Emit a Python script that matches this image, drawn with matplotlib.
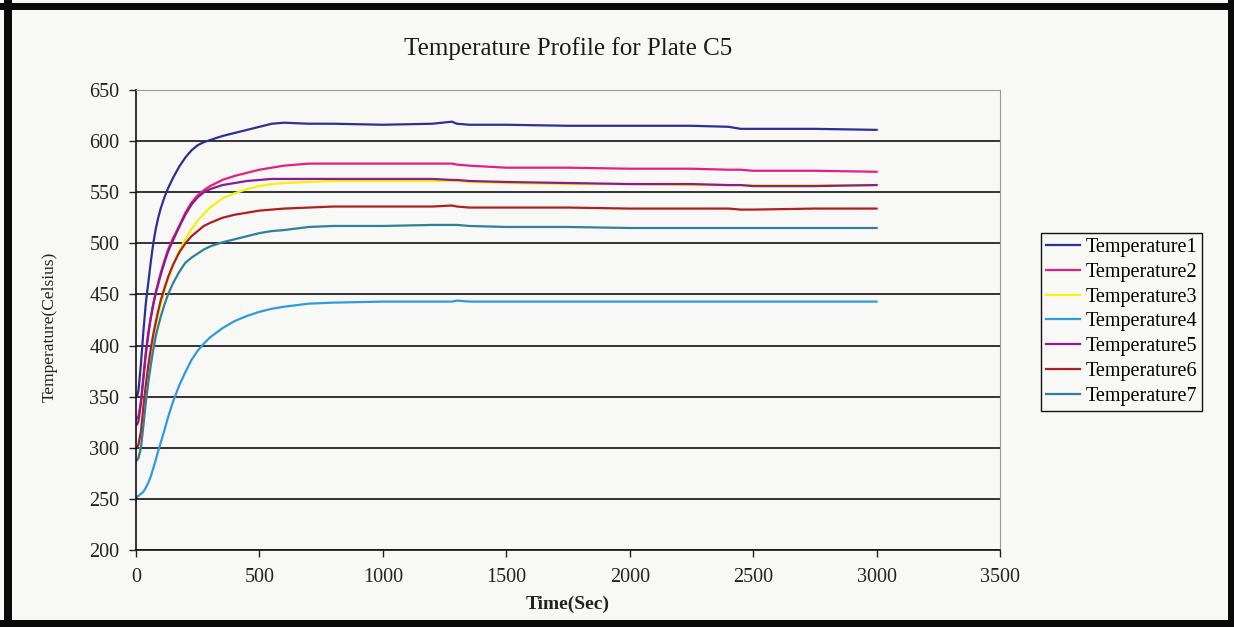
import matplotlib.pyplot as plt
from matplotlib.patches import Rectangle

# Tiempo de muestreo (s) y temperaturas de cada termopar (°C)
tiempo = [0, 5, 10, 20, 30, 40, 50, 60, 70, 80, 90, 100, 115, 130, 150, 175, 200,
          225, 250, 275, 300, 350, 400, 450, 500, 550, 600, 700, 800, 1000, 1200,
          1280, 1300, 1350, 1500, 1750, 2000, 2250, 2400, 2450, 2500, 2750, 3000]

temp1 = [350, 351, 356, 382, 414, 442, 462, 482, 500, 514, 525, 534, 545, 554, 564, 575, 584,
         591, 596, 599, 601, 605, 608, 611, 614, 617, 618, 617, 617, 616, 617,
         619, 617, 616, 616, 615, 615, 615, 614, 612, 612, 612, 611]
temp2 = [328, 329, 331, 346, 370, 394, 413, 428, 441, 452, 462, 471, 483, 494, 505, 517, 530,
         540, 547, 552, 556, 562, 566, 569, 572, 574, 576, 578, 578, 578, 578,
         578, 577, 576, 574, 574, 573, 573, 572, 572, 571, 571, 570]
temp3 = [288, 289, 291, 301, 324, 349, 371, 389, 405, 418, 430, 440, 453, 465, 478, 493, 504,
         514, 522, 529, 535, 544, 549, 553, 556, 558, 559, 560, 561, 561, 561,
         561, 561, 560, 559, 558, 558, 557, 557, 557, 557, 557, 557]
temp4 = [252, 252, 253, 255, 257, 261, 266, 272, 280, 288, 297, 305, 317, 330, 345, 361, 374,
         386, 395, 402, 408, 417, 424, 429, 433, 436, 438, 441, 442, 443, 443,
         443, 444, 443, 443, 443, 443, 443, 443, 443, 443, 443, 443]
temp5 = [322, 323, 326, 343, 368, 392, 411, 427, 440, 451, 460, 469, 481, 492, 503, 516, 528,
         538, 545, 550, 553, 557, 559, 561, 562, 563, 563, 563, 563, 563, 563,
         562, 562, 561, 560, 559, 558, 558, 557, 557, 556, 556, 557]
temp6 = [300, 301, 303, 316, 340, 362, 381, 397, 411, 423, 434, 444, 456, 467, 479, 491, 500,
         507, 512, 517, 520, 525, 528, 530, 532, 533, 534, 535, 536, 536, 536,
         537, 536, 535, 535, 535, 534, 534, 534, 533, 533, 534, 534]
temp7 = [287, 288, 290, 300, 322, 345, 364, 381, 396, 409, 419, 428, 440, 450, 461, 472, 481,
         486, 490, 494, 497, 501, 504, 507, 510, 512, 513, 516, 517, 517, 518,
         518, 518, 517, 516, 516, 515, 515, 515, 515, 515, 515, 515]

series = [temp1, temp2, temp3, temp4, temp5, temp6, temp7]
nombres = ["Temperature1", "Temperature2", "Temperature3", "Temperature4",
           "Temperature5", "Temperature6", "Temperature7"]
colores = ["#2c2f95", "#e5207c", "#f5f10c", "#2f9ae0", "#8c1c8c", "#b01f1f", "#2f7f9e"]

fondo = "#f8f8f6"
plt.rcParams['font.family'] = ['Liberation Serif', 'DejaVu Serif']

fig = plt.figure(figsize=(12.34, 6.27), dpi=100, facecolor=fondo)
ax = fig.add_axes([136 / 1234, 77 / 627, 864 / 1234, 460 / 627], facecolor=fondo)

for datos, nombre, color in zip(series, nombres, colores):
    ax.plot(tiempo, datos, color=color, linewidth=1.6, label=nombre)

ax.set_xlim(0, 3500)
ax.set_ylim(200, 650)
ax.set_xticks(range(0, 3501, 500))
ax.set_yticks(range(200, 651, 50))
ax.tick_params(labelsize=14.5, length=5, width=1, colors="#222222")
ax.tick_params(axis='y', pad=7)
ax.tick_params(axis='x', pad=8)

# lineas horizontales de la cuadricula
ax.yaxis.grid(True, color="#111111", linewidth=1.2)
ax.set_axisbelow(True)

for lado in ("left", "bottom"):
    ax.spines[lado].set_color("#111111")
    ax.spines[lado].set_linewidth(1.2)
for lado in ("top", "right"):
    ax.spines[lado].set_color("#9a9a9a")
    ax.spines[lado].set_linewidth(0.8)

ax.set_title("Temperature Profile for Plate C5", fontsize=18, pad=25, color="#1a1a1a")
ax.set_xlabel("Time(Sec)", fontsize=14, fontweight="bold", labelpad=6, color="#222222")
ax.set_ylabel("Temperature(Celsius)", fontsize=12.5, color="#222222")
ax.yaxis.set_label_coords(-0.091, 0.485)

leg = ax.legend(loc="upper left", bbox_to_anchor=(1041 / 1234, 1 - 233 / 627),
                bbox_transform=fig.transFigure, borderaxespad=0, fontsize=14.5,
                frameon=True, fancybox=False, edgecolor="#111111", facecolor=fondo,
                handlelength=1.7, handletextpad=0.25, labelspacing=0.28,
                borderpad=0.25)
leg.get_frame().set_linewidth(1.0)
leg.get_frame().set_alpha(None)

# marco negro grueso alrededor de la figura
W, H = 1234, 627
for x0, y0, w, h in [(4, 0, 8, H), (0, H - 10, W, 7), (1228, 0, 6, H), (0, 0, W, 7)]:
    fig.patches.append(Rectangle((x0 / W, y0 / H), w / W, h / H, transform=fig.transFigure,
                                 facecolor="#0a0a0a", edgecolor="none", zorder=10))

fig.savefig("out.png", dpi=100, facecolor=fondo)
